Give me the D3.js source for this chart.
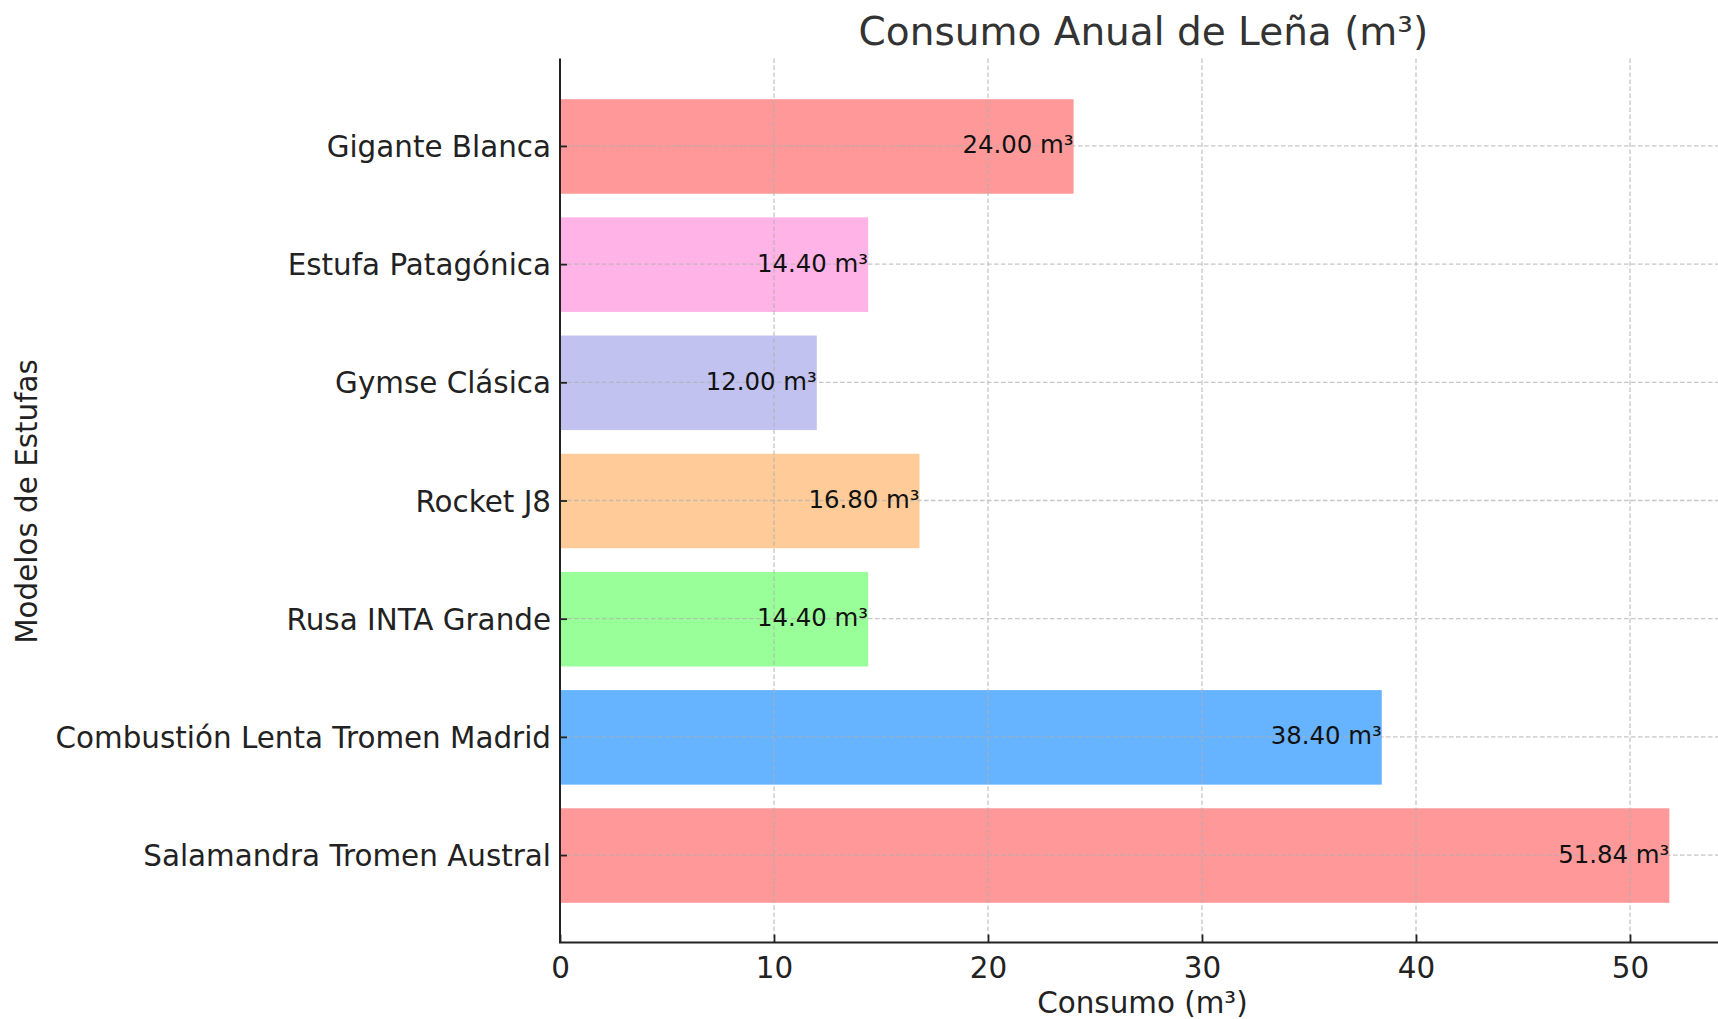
<!DOCTYPE html>
<html>
<head>
<meta charset="utf-8">
<script src="https://cdn.jsdelivr.net/npm/d3@7"></script>
<style>
  html, body { margin: 0; padding: 0; background: #fff; overflow: hidden; }
  svg { display: block; font-family: "DejaVu Sans", sans-serif; }
</style>
</head>
<body>
<svg id="chart" width="1718" height="1019"></svg>
<script>
// Stove models, listed bottom to top as plotted
const models = [
  "Salamandra Tromen Austral",
  "Combustión Lenta Tromen Madrid",
  "Rusa INTA Grande",
  "Rocket J8",
  "Gymse Clásica",
  "Estufa Patagónica",
  "Gigante Blanca"
];
// Annual firewood consumption (m³)
const consumo = [51.84, 38.40, 14.40, 16.80, 12.00, 14.40, 24.00];
const barColors = ["#ff9999", "#66b3ff", "#99ff99", "#ffcc99", "#c2c2f0", "#ffb3e6", "#ff9999"];
const xTicks = [0, 10, 20, 30, 40, 50];

(function draw() {
  const data = models.map((m, i) => ({ model: m, value: consumo[i], color: barColors[i] }));

  const svg = d3.select("#chart");
  const plotLeft = 560, plotTop = 58.5, plotBottom = 942.5;
  const xMax = d3.max(consumo) * 1.05;
  const pxPerUnit = 21.4;
  const plotRight = plotLeft + xMax * pxPerUnit;
  const labelSize = 29.4;

  const x = d3.scaleLinear().domain([0, xMax]).range([plotLeft, plotRight]);
  // Category positions with matplotlib-like margins (bar height 0.8, 5% margins)
  const n = models.length;
  const yLin = d3.scaleLinear().domain([-0.74, n - 1 + 0.74]).range([plotBottom, plotTop]);
  const step = Math.abs(yLin(1) - yLin(0));
  const barH = step * 0.8;

  // Bars
  svg.append("g").selectAll("rect").data(data).join("rect")
    .attr("x", x(0))
    .attr("y", (d, i) => yLin(i) - barH / 2 + 0.5)
    .attr("width", d => x(d.value) - x(0))
    .attr("height", barH)
    .attr("fill", d => d.color);

  // Grid lines (dashed, drawn above the bars)
  const grid = svg.append("g").attr("stroke", "#b0b0b0").attr("stroke-width", 1.3)
    .attr("stroke-dasharray", "4.5,2.5").attr("opacity", 0.7);
  grid.selectAll(".vx").data(xTicks.filter(t => t > 0)).join("line")
    .attr("x1", d => x(d)).attr("x2", d => x(d))
    .attr("y1", plotTop).attr("y2", plotBottom);
  grid.selectAll(".hy").data(d3.range(n)).join("line")
    .attr("x1", plotLeft).attr("x2", plotRight)
    .attr("y1", d => yLin(d)).attr("y2", d => yLin(d));

  // Value labels at the bar ends
  svg.append("g").selectAll("text").data(data).join("text")
    .attr("x", d => x(d.value))
    .attr("y", (d, i) => yLin(i) - 1)
    .attr("text-anchor", "end")
    .attr("dominant-baseline", "central")
    .attr("font-size", 24.4)
    .attr("fill", "#111")
    .text(d => `${d.value.toFixed(2)} m³`);

  // X axis
  const xAxis = d3.axisBottom(x).tickValues(xTicks).tickFormat(d3.format("d")).tickSize(-8).tickPadding(14);
  const gx = svg.append("g").attr("transform", `translate(0,${plotBottom})`).call(xAxis);
  gx.select(".domain").remove();
  gx.selectAll(".tick line").attr("stroke", "#222").attr("stroke-width", 1.8);
  gx.selectAll(".tick text").attr("font-size", labelSize).attr("fill", "#222")
    .attr("font-family", "DejaVu Sans, sans-serif").attr("dy", "0.74em");

  // Y axis
  const yPoint = d3.scalePoint().domain(models.slice().reverse()).range([yLin(n - 1), yLin(0)]);
  const yAxis = d3.axisLeft(yPoint).tickSize(-7).tickPadding(9);
  const gy = svg.append("g").attr("transform", `translate(${plotLeft},0)`).call(yAxis);
  gy.select(".domain").remove();
  gy.selectAll(".tick line").attr("stroke", "#222").attr("stroke-width", 1.8);
  gy.selectAll(".tick text").attr("font-size", labelSize).attr("fill", "#222")
    .attr("font-family", "DejaVu Sans, sans-serif").attr("dy", "0.36em");

  // Spines (left and bottom)
  svg.append("line").attr("x1", plotLeft).attr("x2", plotLeft).attr("y1", plotTop).attr("y2", plotBottom)
    .attr("stroke", "#222").attr("stroke-width", 2);
  svg.append("line").attr("x1", plotLeft - 1).attr("x2", plotRight).attr("y1", plotBottom).attr("y2", plotBottom)
    .attr("stroke", "#222").attr("stroke-width", 2);

  // Title and axis labels
  svg.append("text").attr("x", (plotLeft + plotRight) / 2 + 1).attr("y", 45)
    .attr("text-anchor", "middle").attr("font-size", 39).attr("fill", "#333")
    .text("Consumo Anual de Leña (m³)");
  svg.append("text").attr("x", (plotLeft + plotRight) / 2).attr("y", 1013)
    .attr("text-anchor", "middle").attr("font-size", labelSize).attr("fill", "#222")
    .text("Consumo (m³)");
  svg.append("text").attr("transform", `translate(27,${(plotTop + plotBottom) / 2 + 1}) rotate(-90)`)
    .attr("text-anchor", "middle").attr("dominant-baseline", "central")
    .attr("font-size", labelSize).attr("fill", "#222")
    .text("Modelos de Estufas");
})();
</script>
</body>
</html>
